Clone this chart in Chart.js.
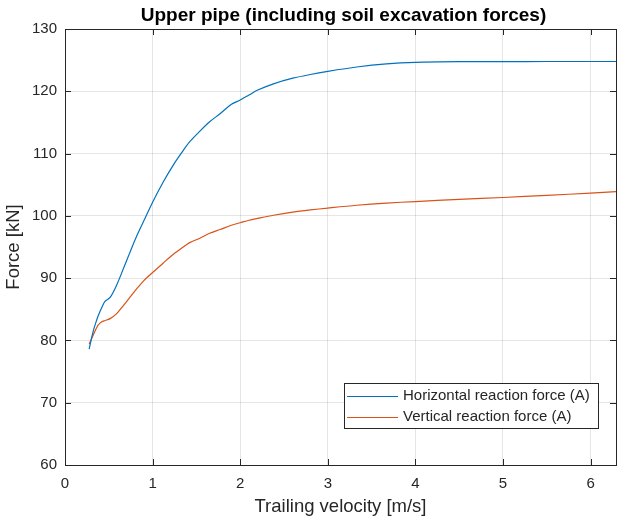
<!DOCTYPE html>
<html>
<head>
<meta charset="utf-8">
<script src="https://cdn.jsdelivr.net/npm/chart.js@4.4.1/dist/chart.umd.min.js"></script>
<style>
  html, body { margin: 0; padding: 0; background: #fff; }
  #wrap { width: 628px; height: 518px; }
</style>
</head>
<body>
<div id="wrap"><canvas id="forceChart" width="628" height="518"></canvas></div>
<script>
// Reaction forces vs trailing velocity
const velocity = [0.276, 0.307, 0.33, 0.36, 0.38, 0.42, 0.458, 0.515, 0.59, 0.666, 0.74, 0.82,
  0.9, 1.0, 1.12, 1.234, 1.33, 1.424, 1.54, 1.651, 1.77, 1.9, 2.0, 2.1, 2.2, 2.38, 2.6,
  2.8, 3.0, 3.33, 3.67, 4.0, 4.5, 5.0, 5.5, 6.0, 6.29];
const horizontalForce = [78.6, 80.6, 81.9, 83.2, 84.0, 85.3, 86.3, 86.9, 88.9, 91.5, 94.1, 96.8,
  99.2, 102.2, 105.4, 108.1, 110.1, 111.9, 113.6, 115.1, 116.4, 117.9, 118.6, 119.4, 120.2, 121.2, 122.1,
  122.7, 123.2, 123.9, 124.4, 124.65, 124.75, 124.75, 124.78, 124.78, 124.78];
const verticalForce = [79.4, 80.4, 81.1, 82.0, 82.5, 83.0, 83.2, 83.5, 84.3, 85.6, 86.9, 88.3,
  89.6, 90.9, 92.4, 93.8, 94.8, 95.7, 96.4, 97.2, 97.8, 98.5, 98.9, 99.3, 99.6, 100.1, 100.6,
  100.95, 101.25, 101.7, 102.05, 102.3, 102.65, 102.95, 103.3, 103.65, 103.9];
const xTicks = [0, 1, 2, 3, 4, 5, 6];
const yTicks = [60, 70, 80, 90, 100, 110, 120, 130];

const seriesNames = ['Horizontal reaction force (A)', 'Vertical reaction force (A)'];
const seriesColors = ['#0072BD', '#D95319'];

const axisColor = '#262626';
const fontFamily = '"Liberation Sans", Arial, Helvetica, sans-serif';

function toPoints(xs, ys) {
  return xs.map((x, i) => ({ x: x, y: ys[i] }));
}

// box around the plot, inward tick marks, title and legend
const matlabAxes = {
  id: 'matlabAxes',
  afterDraw(chart) {
    const ctx = chart.ctx;
    const a = chart.chartArea;
    const xs = chart.scales.x, ys = chart.scales.y;
    ctx.save();
    ctx.strokeStyle = axisColor;
    ctx.lineWidth = 1;
    ctx.strokeRect(Math.round(a.left) + 0.5, Math.round(a.top) + 0.5,
      Math.round(a.right - a.left), Math.round(a.bottom - a.top));
    const tl = 6;
    ctx.beginPath();
    xTicks.forEach(v => {
      const px = Math.round(xs.getPixelForValue(v)) + 0.5;
      ctx.moveTo(px, a.bottom); ctx.lineTo(px, a.bottom - tl);
      ctx.moveTo(px, a.top); ctx.lineTo(px, a.top + tl);
    });
    yTicks.forEach(v => {
      const py = Math.round(ys.getPixelForValue(v)) + 0.5;
      ctx.moveTo(a.left, py); ctx.lineTo(a.left + tl, py);
      ctx.moveTo(a.right, py); ctx.lineTo(a.right - tl, py);
    });
    ctx.stroke();

    // title
    ctx.fillStyle = '#000';
    ctx.font = 'bold 19px ' + fontFamily;
    ctx.textAlign = 'center';
    ctx.textBaseline = 'middle';
    ctx.fillText('Upper pipe (including soil excavation forces)', (a.left + a.right) / 2 + 3, 16);

    // legend
    const lx = 344, ly = 383, lw = 254, lh = 45;
    ctx.fillStyle = '#fff';
    ctx.fillRect(lx, ly, lw, lh);
    ctx.strokeStyle = axisColor;
    ctx.strokeRect(lx + 0.5, ly + 0.5, lw, lh);
    ctx.font = '15px ' + fontFamily;
    ctx.textAlign = 'left';
    seriesNames.forEach((name, i) => {
      const yy = ly + 13 + i * 21;
      ctx.strokeStyle = seriesColors[i];
      ctx.beginPath();
      ctx.moveTo(lx + 3, Math.round(yy) + 0.5);
      ctx.lineTo(lx + 54, Math.round(yy) + 0.5);
      ctx.stroke();
      ctx.fillStyle = axisColor;
      ctx.fillText(name, lx + 59, yy);
    });
    ctx.restore();
  }
};

new Chart(document.getElementById('forceChart'), {
  type: 'line',
  data: {
    datasets: [{
      label: seriesNames[0],
      data: toPoints(velocity, horizontalForce),
      borderColor: seriesColors[0],
      borderWidth: 1.2,
      pointRadius: 0,
      tension: 0.3,
      fill: false
    }, {
      label: seriesNames[1],
      data: toPoints(velocity, verticalForce),
      borderColor: seriesColors[1],
      borderWidth: 1.2,
      pointRadius: 0,
      tension: 0.3,
      fill: false
    }]
  },
  options: {
    responsive: false,
    animation: false,
    layout: { padding: { left: 0, right: 12, top: 29, bottom: 0 } },
    plugins: {
      legend: { display: false },
      tooltip: { enabled: false }
    },
    scales: {
      x: {
        type: 'linear',
        min: 0,
        max: 6.29,
        afterBuildTicks: s => { s.ticks = xTicks.map(v => ({ value: v })); },
        afterFit: s => { s.height = 53; },
        grid: { color: 'rgba(0,0,0,0.1)', drawTicks: false },
        border: { display: false },
        ticks: { color: axisColor, font: { family: fontFamily, size: 15 }, padding: 10, maxRotation: 0 },
        title: {
          display: true,
          text: 'Trailing velocity [m/s]',
          color: axisColor,
          font: { family: fontFamily, size: 18.5 },
          padding: { top: 0, bottom: 0 }
        }
      },
      y: {
        min: 60,
        max: 130,
        afterBuildTicks: s => { s.ticks = yTicks.map(v => ({ value: v })); },
        afterFit: s => { s.width = 65; },
        grid: { color: 'rgba(0,0,0,0.1)', drawTicks: false },
        border: { display: false },
        ticks: { color: axisColor, font: { family: fontFamily, size: 15 }, padding: 8 },
        title: {
          display: true,
          text: 'Force [kN]',
          color: axisColor,
          font: { family: fontFamily, size: 18.5 },
          padding: { top: 3, bottom: 0 }
        }
      }
    }
  },
  plugins: [matlabAxes]
});
</script>
</body>
</html>
